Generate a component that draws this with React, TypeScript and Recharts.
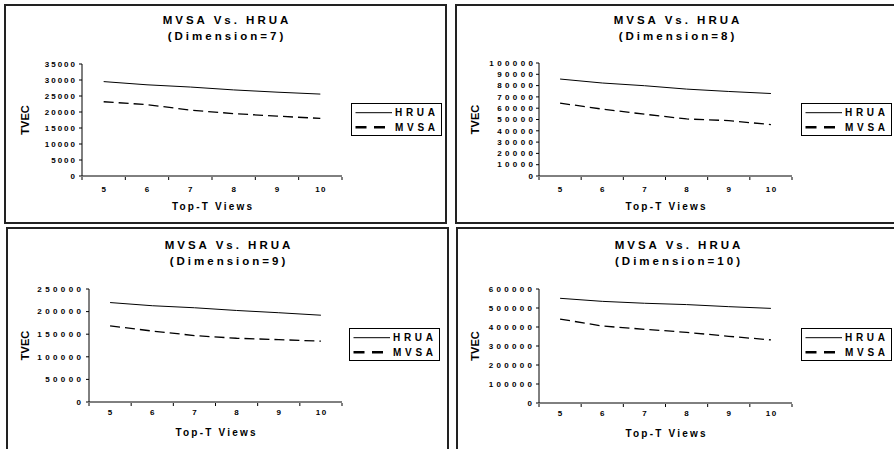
import React from 'react';
import { LineChart, Line, XAxis, YAxis, Legend } from 'recharts';

const topT = [5, 6, 7, 8, 9, 10];
const bandEdges = [4.5, 5.5, 6.5, 7.5, 8.5, 9.5, 10.5];

const hrua7 = [29500, 28500, 27800, 26900, 26200, 25600];
const mvsa7 = [23200, 22300, 20600, 19500, 18700, 18000];
const yTicks7 = [0, 5000, 10000, 15000, 20000, 25000, 30000, 35000];

const hrua8 = [85800, 82300, 79900, 76900, 74800, 73000];
const mvsa8 = [64500, 59200, 54700, 50500, 49000, 45500];
const yTicks8 = [0, 10000, 20000, 30000, 40000, 50000, 60000, 70000, 80000, 90000, 100000];

const hrua9 = [220000, 213000, 208500, 202500, 197500, 192000];
const mvsa9 = [168500, 157000, 147000, 141000, 138000, 134500];
const yTicks9 = [0, 50000, 100000, 150000, 200000, 250000];

const hrua10 = [551000, 535000, 525000, 518000, 507000, 498000];
const mvsa10 = [442000, 405000, 388000, 372000, 351000, 332000];
const yTicks10 = [0, 100000, 200000, 300000, 400000, 500000, 600000];

const FONT = '"Liberation Sans", Arial, Helvetica, sans-serif';
const W = 439;
const H = 216;

const panels = [
  { dim: 7, hrua: hrua7, mvsa: mvsa7, yTicks: yTicks7, left: 4, top: 4, boxH: 216, yW: 60, mTop: 58, mRight: 103, mBottom: 6, yLs: 2, yMargin: 4, xMargin: 7, legendX: 345, legendY: 97, titleY: 6, tvecX: 19 },
  { dim: 8, hrua: hrua8, mvsa: mvsa8, yTicks: yTicks8, left: 455, top: 4, boxH: 216, yW: 66, mTop: 57, mRight: 104, mBottom: 6, yLs: 3.4, yMargin: 3, xMargin: 7, legendX: 344, legendY: 97, titleY: 6, tvecX: 18 },
  { dim: 9, hrua: hrua9, mvsa: mvsa9, yTicks: yTicks9, left: 6, top: 227, boxH: 230, yW: 65, mTop: 60, mRight: 105, mBottom: 3, yLs: 3.4, yMargin: 5, xMargin: 4, legendX: 341, legendY: 99, titleY: 8, tvecX: 17 },
  { dim: 10, hrua: hrua10, mvsa: mvsa10, yTicks: yTicks10, left: 456, top: 227, boxH: 230, yW: 65, mTop: 60, mRight: 105, mBottom: 2, yLs: 3.3, yMargin: 4, xMargin: 4, legendX: 343, legendY: 99, titleY: 8, tvecX: 17 },
];

function LegendBox({ payload }: any) {
  const items = payload || [];
  return (
    <div style={{ width: 91, height: 33, border: '1px solid #000', boxSizing: 'border-box', background: '#fff' }}>
      <svg width={89} height={31} style={{ display: 'block' }}>
        {items.map((it: any, i: number) => {
          const y = 8.7 + i * 14.5;
          const dashed = !!(it.payload && it.payload.strokeDasharray);
          return (
            <g key={it.value}>
              <line x1={3.5} x2={dashed ? 38 : 40} y1={y} y2={y} stroke="#000"
                strokeWidth={dashed ? 2.5 : 1} strokeDasharray={dashed ? '11 7.5' : undefined} />
              <text x={43} y={y} dy="0.36em" fontSize={10} fontWeight="bold" fill="#000"
                style={{ letterSpacing: '3.7px' }}>{it.value}</text>
            </g>
          );
        })}
      </svg>
    </div>
  );
}

function Panel({ cfg }: any) {
  const data = topT.map((t, i) => ({ t, hrua: cfg.hrua[i], mvsa: cfg.mvsa[i] }));
  const yMax = cfg.yTicks[cfg.yTicks.length - 1];

  const yTick = ({ x, y, payload }: any) => (
    <text x={x + cfg.yLs} y={y} dy="0.34em" textAnchor="end" fontSize={8} fontWeight="bold" fill="#000"
      style={{ letterSpacing: cfg.yLs + 'px' }}>{payload.value}</text>
  );
  const xTick = ({ x, y, payload }: any) => (
    <text x={x + 0.75} y={y} dy="0.71em" textAnchor="middle" fontSize={8} fontWeight="bold" fill="#000"
      style={{ letterSpacing: '1.5px' }}>{payload.value}</text>
  );
  const xTitle = (p: any) => {
    const vb = p.viewBox || {};
    return (
      <text x={vb.x + vb.width / 2 + 1.1} y={vb.y + 29} dy="0.35em" textAnchor="middle" fontSize={10}
        fontWeight="bold" fill="#000" style={{ letterSpacing: '2.2px' }}>Top-T Views</text>
    );
  };
  const yTitle = () => {
    const cy = cfg.mTop + (H - cfg.mTop - cfg.mBottom - 40) / 2;
    return (
      <text x={cfg.tvecX} y={cy} dy="0.35em" textAnchor="middle" fontSize={11} fontWeight="bold" fill="#000"
        transform={`rotate(-90 ${cfg.tvecX} ${cy})`}>TVEC</text>
    );
  };

  return (
    <div style={{
      position: 'absolute', left: cfg.left, top: cfg.top, width: W, height: cfg.boxH,
      border: '2px solid #222', background: '#fff', fontFamily: FONT,
    }}>
      <div style={{
        position: 'absolute', left: 0, top: cfg.titleY, width: W, textAlign: 'center', fontSize: 11.5,
        fontWeight: 'bold', letterSpacing: '3px', lineHeight: '16px', paddingLeft: 3, boxSizing: 'border-box', color: '#000',
      }}>
        <div>MVSA Vs. HRUA</div>
        <div>(Dimension={cfg.dim})</div>
      </div>
      <div style={{ position: 'absolute', left: 0, top: 0 }}>
        <LineChart width={W} height={H} data={data}
          margin={{ top: cfg.mTop, right: cfg.mRight, bottom: cfg.mBottom, left: 16 }}>
          <XAxis xAxisId="lab" dataKey="t" type="number" domain={[4.5, 10.5]} ticks={topT} interval={0}
            height={1} tickSize={3} tickMargin={cfg.xMargin} tickLine={false} axisLine={{ stroke: '#000' }} tick={xTick} />
          <XAxis xAxisId="tm" dataKey="t" type="number" domain={[4.5, 10.5]} ticks={bandEdges} interval={0}
            height={39} tickSize={3} axisLine={false} tickLine={{ stroke: '#000' }} tick={() => null} label={xTitle} />
          <YAxis type="number" domain={[0, yMax]} ticks={cfg.yTicks} interval={0} width={cfg.yW} tickSize={3}
            tickMargin={cfg.yMargin} axisLine={{ stroke: '#000' }} tickLine={{ stroke: '#000' }} tick={yTick} label={yTitle} />
          <Legend content={LegendBox} align="center" verticalAlign="middle"
            wrapperStyle={{ left: cfg.legendX, top: cfg.legendY, width: 91, height: 33 }} />
          <Line xAxisId="lab" dataKey="hrua" name="HRUA" type="linear" stroke="#000" strokeWidth={1}
            dot={false} isAnimationActive={false} />
          <Line xAxisId="lab" dataKey="mvsa" name="MVSA" type="linear" stroke="#000" strokeWidth={1.3}
            strokeDasharray="10 5" dot={false} isAnimationActive={false} />
        </LineChart>
      </div>
    </div>
  );
}

export default function App() {
  return (
    <div style={{ position: 'fixed', left: 0, top: 0, width: 894, height: 449, overflow: 'hidden', background: '#fff' }}>
      {panels.map((p) => <Panel key={p.dim} cfg={p} />)}
    </div>
  );
}
